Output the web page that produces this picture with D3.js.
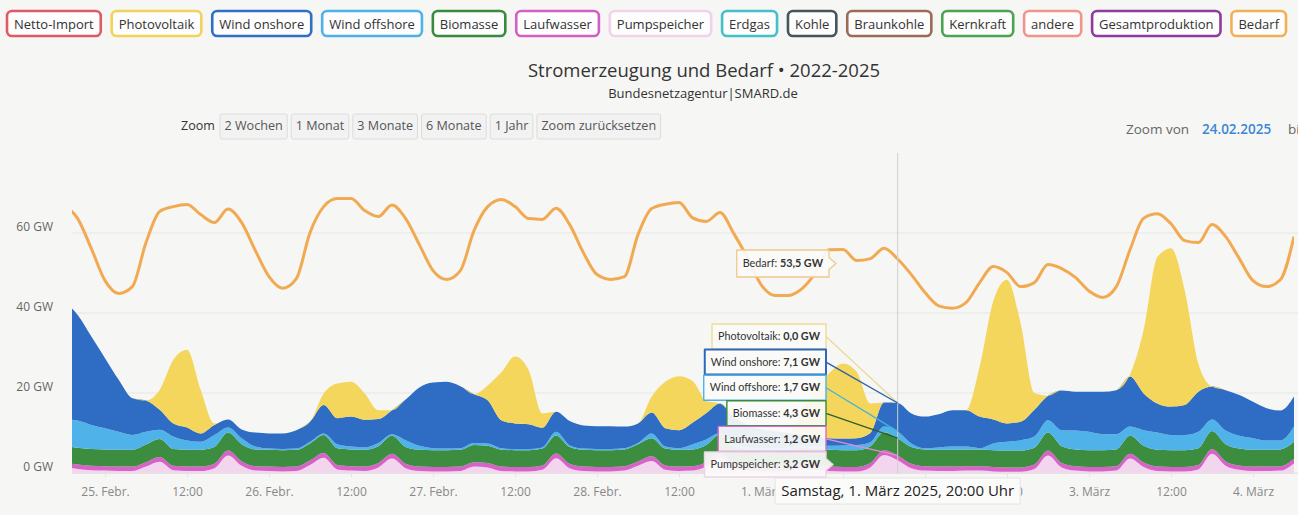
<!DOCTYPE html>
<html lang="de">
<head>
<meta charset="utf-8">
<script src="https://cdn.jsdelivr.net/npm/d3@7"></script>
<style>
  html, body { margin: 0; padding: 0; background: #f6f6f4; }
  svg { display: block; font-family: "Open Sans", "DejaVu Sans", sans-serif; }
</style>
</head>
<body>
<svg id="chart" width="1298" height="515"></svg>
<script>
// Hourly series sampled every 2 hours, first sample 24.02.2025 18:00
const startTime = Date.UTC(2025, 1, 24, 18);
const stepHours = 2;

// Generation (GW), stacked from bottom to top
const pumpspeicher = [1.6,1.0,0.7,0.6,0.5,0.5,1.6,2.8,0.7,0.5,0.5,1.2,4.4,1.8,0.6,0.5,0.4,0.5,2.0,3.8,0.9,0.6,0.5,1.4,3.6,1.2,0.5,0.4,0.4,0.5,1.6,1.4,0.5,0.4,0.4,0.8,3.7,1.2,0.5,0.4,0.4,0.6,1.8,3.0,0.8,0.5,0.6,1.6,3.9,1.3,0.6,0.4,0.4,0.5,1.2,0.8,0.5,0.4,0.4,1.4,4.5,3.2,1.2,0.6,0.5,0.5,0.6,0.6,0.4,0.3,0.3,1.0,4.4,1.4,0.6,0.4,0.4,0.6,3.6,1.5,0.5,0.4,0.4,0.9,4.8,1.8,0.8,0.5,0.5,0.6,2.4];
const laufwasser = [1.1,1.1,1.1,1.1,1.1,1.1,1.1,1.2,1.1,1.1,1.1,1.1,1.2,1.1,1.1,1.1,1.1,1.1,1.1,1.2,1.1,1.1,1.1,1.1,1.2,1.1,1.1,1.1,1.1,1.1,1.1,1.1,1.1,1.1,1.1,1.1,1.2,1.1,1.1,1.1,1.1,1.1,1.1,1.2,1.1,1.1,1.1,1.1,1.2,1.1,1.1,1.1,1.1,1.1,1.1,1.1,1.1,1.1,1.1,1.1,1.2,1.2,1.1,1.1,1.1,1.1,1.1,1.1,1.1,1.1,1.1,1.1,1.2,1.1,1.1,1.1,1.1,1.1,1.2,1.1,1.1,1.1,1.1,1.1,1.2,1.1,1.1,1.1,1.1,1.1,1.1];
const biomasse = [4.2,4.2,4.2,4.2,4.2,4.2,4.4,4.5,4.2,4.2,4.2,4.2,4.5,4.3,4.2,4.2,4.2,4.2,4.3,4.5,4.2,4.2,4.2,4.2,4.5,4.2,4.2,4.2,4.2,4.2,4.3,4.3,4.2,4.2,4.2,4.2,4.5,4.2,4.2,4.2,4.2,4.2,4.3,4.5,4.2,4.2,4.2,4.3,4.5,4.2,4.2,4.2,4.2,4.2,4.2,4.2,4.2,4.2,4.2,4.2,4.5,4.3,4.2,4.2,4.2,4.2,4.2,4.2,4.2,4.2,4.2,4.2,4.5,4.2,4.2,4.2,4.2,4.2,4.5,4.2,4.2,4.2,4.2,4.2,4.5,4.3,4.2,4.2,4.2,4.2,4.3];
const windOffshore = [6.6,6.8,6.0,5.3,4.5,3.7,3.2,2.3,3.1,2.3,2.0,3.0,1.3,1.5,0.7,0.3,0.3,0.3,0.4,0.4,1.0,0.7,0.6,0.8,0.4,1.7,1.0,0.5,0.4,0.4,0.5,0.6,0.4,0.3,0.3,0.3,0.9,0.4,0.3,0.3,0.3,0.3,0.3,1.2,0.5,0.4,1.3,1.4,0.4,0.9,0.6,0.5,0.5,0.5,0.4,0.6,1.0,1.2,1.3,1.0,1.4,1.7,0.9,0.3,0.6,0.8,0.7,0.3,1.7,2.2,2.6,2.8,3.1,4.0,4.7,4.6,4.0,3.8,2.3,3.9,4.3,3.8,3.8,4.1,2.9,3.4,3.2,2.9,2.3,2.2,3.8];
const windOnshore = [29.5,26.4,22.1,17.5,13.0,9.2,7.8,5.0,3.3,3.3,2.1,2.5,2.0,2.2,3.5,3.8,3.9,4.6,5.0,7.1,6.5,7.5,6.9,6.0,6.0,10.2,14.6,16.4,16.7,15.5,12.2,10.8,7.0,6.4,6.2,4.9,5.0,6.1,5.8,5.7,5.7,5.4,4.9,5.2,4.6,4.5,5.4,6.6,7.4,6.5,5.5,4.8,4.3,3.7,2.6,2.3,1.9,1.7,1.7,2.3,6.0,7.1,7.5,7.9,8.3,9.1,9.1,7.9,6.0,4.6,4.6,6.7,6.1,9.9,9.7,10.0,10.6,11.0,12.5,9.2,7.3,7.1,7.5,10.0,8.2,10.1,10.2,9.1,8.1,7.5,7.5];
const photovoltaik = [0,0,0,0,0,0,0,5.0,15.9,19.4,10.9,0.4,0,0,0,0,0,0,0,2.9,8.7,8.7,6.6,2.2,0,0,0,0,0,0,0,3.7,12.0,16.7,13.5,3.6,0,0,0,0,0,0,0,4.0,11.6,13.5,10.4,3.0,0,0,0,0,0,0,6.5,12.0,16.3,18.8,16.6,7.4,0,0.0,0,0,0,0,0,12.5,29.6,35.9,24.6,4.2,0,0,0,0,0,0,0.5,15.9,36.6,39.6,28.7,7.1,0,0,0,0,0,0,0];
// Demand (GW)
const bedarf = [67.0,63.6,56.1,48.1,44.9,46.6,57.6,65.4,66.6,67.1,64.6,62.6,66.0,62.6,55.6,49.1,46.2,48.6,60.1,66.6,68.6,68.6,65.6,64.1,67.0,63.6,57.1,50.6,48.4,50.6,60.6,66.6,68.4,66.6,63.6,63.4,66.2,62.1,55.1,49.6,48.4,49.1,59.6,66.1,67.2,67.6,63.8,62.9,65.1,59.9,53.9,47.1,44.4,44.4,46.1,50.1,55.8,55.9,53.1,53.6,56.2,53.5,49.6,45.1,41.8,41.2,42.6,47.6,51.6,50.1,46.6,47.6,52.1,51.1,48.9,45.5,43.9,46.6,55.8,63.7,64.8,62.3,58.1,57.6,62.1,59.1,53.6,48.1,46.6,48.3,59.1];

// Legend entries
const legendNames = ["Netto-Import","Photovoltaik","Wind onshore","Wind offshore","Biomasse","Laufwasser","Pumpspeicher","Erdgas","Kohle","Braunkohle","Kernkraft","andere","Gesamtproduktion","Bedarf"];
const legendColors = ["#e05a66","#f0d35a","#2f6fc4","#4eb1e8","#3a8a3e","#d35fc6","#f0d2ea","#45bfc9","#47545a","#9b6b57","#4aa452","#f0958e","#8e3a9e","#f2b055"];

// Stacked series (bottom to top) and their fills
const stackNames = ["Pumpspeicher","Laufwasser","Biomasse","Wind offshore","Wind onshore","Photovoltaik"];
const stackValues = [pumpspeicher, laufwasser, biomasse, windOffshore, windOnshore, photovoltaik];
const stackColors = ["#f2d6ee","#d862c8","#3d8d41","#4fb3ea","#2e6dc3","#f4d65c"];
const bedarfColor = "#f2aa52";

// Axis labels
const yTicks = [0, 20, 40, 60];
const xTickLabels = ["25. Febr.","12:00","26. Febr.","12:00","27. Febr.","12:00","28. Febr.","12:00","1. März","12:00","2. März","12:00","3. März","12:00","4. März"];
const zoomButtons = ["2 Wochen","1 Monat","3 Monate","6 Monate","1 Jahr","Zoom zurücksetzen"];

// Hovered sample: Samstag, 1. März 2025, 20:00 Uhr
const hoverIndex = 61;

const svg = d3.select("#chart");
const hour = 3600e3;
const times = pumpspeicher.map((_, i) => new Date(startTime + i * stepHours * hour));

const plotLeft = 72, plotRight = 1294, plotTop = 153, plotBottom = 473;
const x = d3.scaleUtc()
  .domain([new Date(Date.UTC(2025, 1, 24, 19, 10)), new Date(Date.UTC(2025, 2, 4, 6))])
  .range([plotLeft, plotRight]);
const y = d3.scaleLinear().domain([0, 80]).range([plotBottom, plotTop]);

svg.append("rect").attr("width", 1298).attr("height", 515).attr("fill", "#f6f6f4");

// ---- Legend ----
const legend = svg.append("g");
const legItems = legendNames.map((name, i) => {
  const g = legend.append("g");
  const t = g.append("text").text(name)
    .attr("font-size", 13).attr("fill", "#333").attr("dy", "0.35em");
  return { g, t, w: t.node().getComputedTextLength() + 14, color: legendColors[i] };
});
const legLeft = 7, legRight = 1286;
const totalW = d3.sum(legItems, d => d.w);
const gap = (legRight - legLeft - totalW) / (legItems.length - 1);
let lx = legLeft;
legItems.forEach(d => {
  d.g.insert("rect", "text")
    .attr("x", lx).attr("y", 11).attr("width", d.w).attr("height", 25)
    .attr("rx", 5).attr("fill", "#fdfdfd")
    .attr("stroke", d.color).attr("stroke-width", 2.6);
  d.t.attr("x", lx + d.w / 2).attr("y", 24).attr("text-anchor", "middle");
  lx += d.w + gap;
});

// ---- Titles ----
svg.append("text").attr("x", 704).attr("y", 77).attr("text-anchor", "middle")
  .attr("font-size", 18.5).attr("fill", "#333")
  .text("Stromerzeugung und Bedarf • 2022-2025");
svg.append("text").attr("x", 703).attr("y", 98).attr("text-anchor", "middle")
  .attr("font-size", 13).attr("fill", "#333")
  .text("Bundesnetzagentur|SMARD.de");

// ---- Zoom controls ----
svg.append("text").attr("x", 181).attr("y", 130).attr("font-size", 12.5).attr("fill", "#333").text("Zoom");
let bx = 220;
zoomButtons.forEach(label => {
  const g = svg.append("g");
  const t = g.append("text").text(label).attr("font-size", 12.6).attr("fill", "#555");
  const w = t.node().getComputedTextLength() + 9;
  g.insert("rect", "text").attr("x", bx).attr("y", 114).attr("width", w).attr("height", 25)
    .attr("rx", 2).attr("fill", "#f1f2f1").attr("stroke", "#dcdcdc");
  t.attr("x", bx + 4.5).attr("y", 130);
  bx += w + 4;
});
const zv = svg.append("text").attr("y", 134).attr("font-size", 13.5);
zv.append("tspan").attr("x", 1126).attr("fill", "#666").text("Zoom von");
zv.append("tspan").attr("x", 1202).attr("fill", "#3b86d6").attr("font-weight", 600).text("24.02.2025");
zv.append("tspan").attr("x", 1288).attr("fill", "#666").text("bis");

// ---- Grid and axes ----
const grid = svg.append("g");
yTicks.forEach(v => {
  grid.append("line").attr("x1", plotLeft).attr("x2", 1298)
    .attr("y1", y(v)).attr("y2", y(v)).attr("stroke", "#e6e6e4").attr("stroke-width", 1);
});
const yAxis = d3.axisLeft(y).tickValues(yTicks).tickFormat(v => `${v} GW`).tickSize(0).tickPadding(0);
svg.append("g").attr("transform", "translate(53,-6)").call(yAxis)
  .call(g => g.select(".domain").remove())
  .call(g => g.selectAll("text").attr("font-size", 12).attr("fill", "#666")
    .attr("font-family", "\"Open Sans\", sans-serif"));

// ---- Series ----
svg.append("clipPath").attr("id", "plot-clip").append("rect")
  .attr("x", plotLeft).attr("y", 140).attr("width", plotRight - plotLeft).attr("height", plotBottom - 140 + 1);

const rows = times.map((t, i) => {
  const r = { t };
  stackNames.forEach((k, j) => { r[k] = stackValues[j][i]; });
  return r;
});
const stacked = d3.stack().keys(stackNames)(rows);
const area = d3.area()
  .x(d => x(d.data.t)).y0(d => y(d[0])).y1(d => y(d[1]))
  .curve(d3.curveMonotoneX);
const plot = svg.append("g").attr("clip-path", "url(#plot-clip)");
plot.selectAll("path.layer").data(stacked).join("path")
  .attr("class", "layer").attr("d", area)
  .attr("fill", (d, i) => stackColors[i]);

const line = d3.line().x((d, i) => x(times[i])).y(d => y(d)).curve(d3.curveMonotoneX);
plot.append("path").datum(bedarf).attr("d", line)
  .attr("fill", "none").attr("stroke", bedarfColor).attr("stroke-width", 3)
  .attr("stroke-linejoin", "round");

// ---- Crosshair ----
const hx = x(times[hoverIndex]);
svg.append("line").attr("x1", hx).attr("x2", hx).attr("y1", plotTop).attr("y2", plotBottom)
  .attr("stroke", "#cfcfcf").attr("stroke-width", 1);

// ---- Date label under the crosshair (box extent needed for the x axis) ----
const dateFont = 15;
const probe = svg.append("text").attr("font-size", dateFont).text("Samstag, 1. März 2025, 20:00 Uhr");
const dw = probe.node().getComputedTextLength() + 12;
probe.remove();
const dateLeft = hx - dw / 2, dateRight = hx + dw / 2;

// ---- X axis (labels fully under the date box are not shown) ----
const xTicks = xTickLabels.map((_, i) => new Date(Date.UTC(2025, 1, 25) + i * 12 * hour));
const xAxis = d3.axisBottom(x).tickValues(xTicks).tickFormat((d, i) => xTickLabels[i]).tickSize(4).tickPadding(10);
const xg = svg.append("g").attr("transform", `translate(0,${plotBottom})`).call(xAxis)
  .call(g => g.select(".domain").attr("stroke", "#e4e4e2").attr("d", `M${plotLeft},0.5H1298`))
  .call(g => g.selectAll("line").attr("stroke", "#e4e4e2"))
  .call(g => g.selectAll("text").attr("font-size", 12).attr("fill", "#888")
    .attr("font-family", "\"Open Sans\", sans-serif"));
xg.selectAll(".tick").each(function (d) {
  const t = d3.select(this).select("text");
  const w = t.node().getComputedTextLength();
  const cx = x(d);
  if (cx - w / 2 > dateLeft && cx + w / 2 < dateRight) t.remove();
});

const dateG = svg.append("g");
dateG.append("rect").attr("x", dateLeft).attr("y", 478).attr("width", dw).attr("height", 26)
  .attr("fill", "#fbfbfa").attr("stroke", "#e4e4e2");
dateG.append("text").attr("x", hx).attr("y", 491).attr("dy", "0.35em")
  .attr("text-anchor", "middle").attr("font-size", dateFont).attr("fill", "#222")
  .text("Samstag, 1. März 2025, 20:00 Uhr");

// ---- Tooltips ----
const fmt = v => d3.format(".1f")(v).replace(".", ",") + " GW";
const tip = svg.append("g").attr("font-size", 10.8).attr("fill", "#333")
  .attr("font-family", "Lato, \"Open Sans\", sans-serif");

function tipBox(rightX, topY, h, label, value, color, callout, strokeW) {
  const g = tip.append("g");
  const t = g.append("text").attr("x", rightX - 6).attr("y", topY + h / 2).attr("dy", "0.35em")
    .attr("text-anchor", "end");
  t.append("tspan").text(label + ": ");
  t.append("tspan").attr("font-weight", 700).text(value);
  const w = t.node().getComputedTextLength() + 12;
  const left = rightX - w, cy = topY + h / 2;
  let d = `M${left},${topY}H${rightX}`;
  if (callout) d += `V${cy - 6}L${rightX + 7},${cy}L${rightX},${cy + 6}`;
  d += `V${topY + h}H${left}Z`;
  g.insert("path", "text").attr("d", d).attr("fill", "rgba(250,250,249,0.93)")
    .attr("stroke", color).attr("stroke-width", strokeW || 1.3).attr("stroke-linejoin", "round");
  return cy;
}

// Demand
tipBox(829, 250, 27, "Bedarf", fmt(bedarf[hoverIndex]), "#efc88c", true);

// Stack, listed from top layer down
const stackTop = stacked.map(s => s[hoverIndex][1]);
const tipOrder = [5, 4, 3, 2, 1, 0];
const tipBorder = ["#ecd3ea", "#d66fcb", "#3a8a3e", "#4eb1e8", "#2f68bb", "#eedc95"];
const lineColor = ["#f0d2ea", "#e58ad9", "#2e5e2f", "#45b4d6", "#2b5ea8", "#eadb98"];
tipOrder.forEach((k, n) => {
  const top = 324 + n * 25.6;
  if (k !== 0) {
    tip.append("line").attr("x1", 826).attr("y1", top + 12.5)
      .attr("x2", hx).attr("y2", y(stackTop[k]))
      .attr("stroke", lineColor[k]).attr("stroke-width", 1.3);
  }
});
tipOrder.forEach((k, n) => {
  const top = 324 + n * 25.6;
  tipBox(826, top, 25, stackNames[k], fmt(stackValues[k][hoverIndex]), tipBorder[k], k === 0, k === 4 ? 2 : 1.4);
});
</script>
</body>
</html>
